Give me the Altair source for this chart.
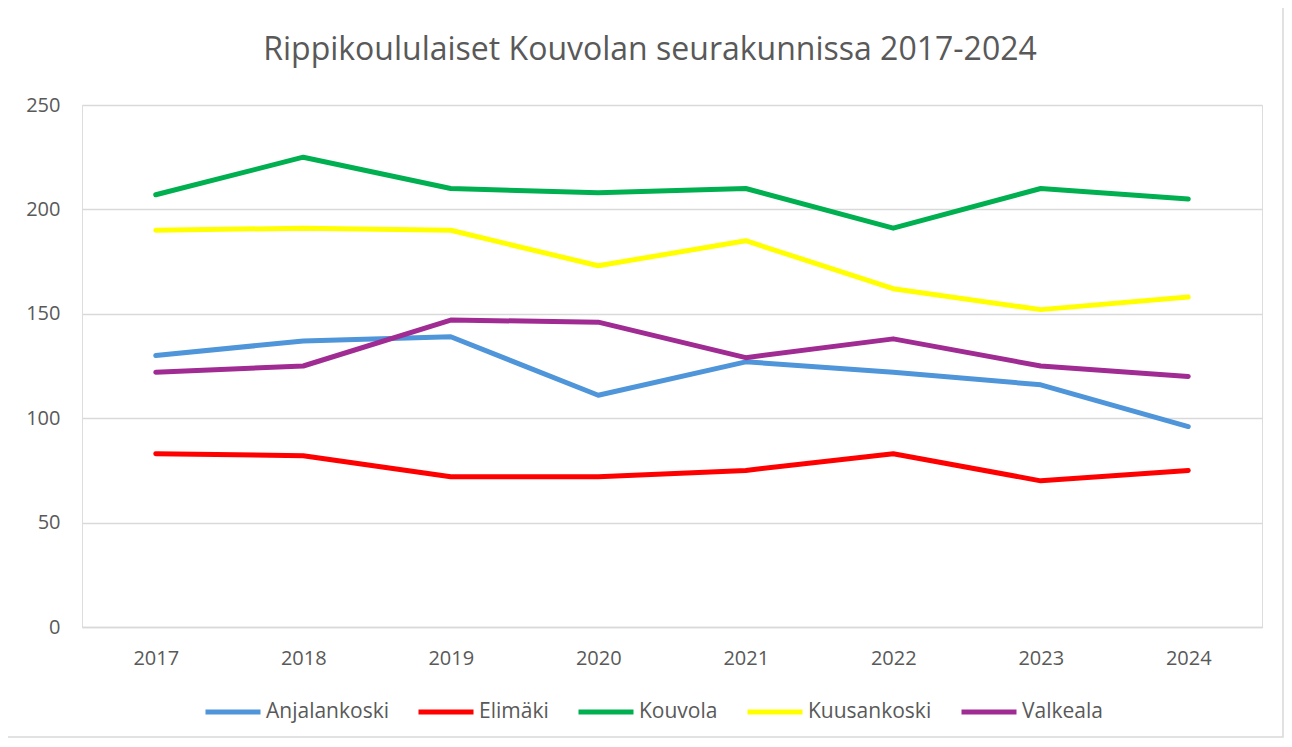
import altair as alt
import pandas as pd

years = ["2017", "2018", "2019", "2020", "2021", "2022", "2023", "2024"]
series = ["Anjalankoski", "Elimäki", "Kouvola", "Kuusankoski", "Valkeala"]
anjalankoski = [130, 137, 139, 111, 127, 122, 116, 96]
elimaki = [83, 82, 72, 72, 75, 83, 70, 75]
kouvola = [207, 225, 210, 208, 210, 191, 210, 205]
kuusankoski = [190, 191, 190, 173, 185, 162, 152, 158]
valkeala = [122, 125, 147, 146, 129, 138, 125, 120]
colors = ["#4E95D9", "#FF0000", "#00B050", "#FFFF00", "#A02B93"]
y_ticks = [0, 50, 100, 150, 200, 250]

values = [anjalankoski, elimaki, kouvola, kuusankoski, valkeala]
rows = []
for si, (name, vals) in enumerate(zip(series, values)):
    for y, v in zip(years, vals):
        rows.append({"Vuosi": y, "Seurakunta": name, "Määrä": v, "order": si})
df = pd.DataFrame(rows)

FONT = "Open Sans"
GREY = "#595959"

lines = alt.Chart(df).mark_line(strokeWidth=5, strokeCap="round", strokeJoin="round").encode(
    x=alt.X("Vuosi:O", sort=years,
            axis=alt.Axis(title=None, labelAngle=0, ticks=False, domain=True,
                          domainColor="#D9D9D9", domainWidth=1.5,
                          labelFontSize=20, labelColor=GREY, labelFont=FONT,
                          labelPadding=21)),
    y=alt.Y("Määrä:Q", scale=alt.Scale(domain=[0, 250], nice=False),
            axis=alt.Axis(title=None, values=y_ticks, ticks=False, domain=False,
                          gridColor="#D9D9D9", gridWidth=1.5,
                          labelFontSize=20, labelColor=GREY, labelFont=FONT,
                          labelPadding=22)),
    color=alt.Color("Seurakunta:N", sort=series,
                    scale=alt.Scale(domain=series, range=colors),
                    legend=alt.Legend(title=None, orient="none", direction="horizontal",
                                      legendX=121, legendY=577,
                                      symbolType="stroke", symbolSize=3025,
                                      symbolStrokeWidth=5, labelOffset=3,
                                      columnPadding=19, labelFontSize=21,
                                      labelColor=GREY, labelFont=FONT)),
    order=alt.Order("order:Q"),
)

frame = alt.Chart(pd.DataFrame({"a": [0]})).mark_rect(
    fill=None, stroke="#D9D9D9", strokeWidth=1.5
).encode(
    x=alt.value(-76), x2=alt.value(1201), y=alt.value(-98), y2=alt.value(632)
)

chart = alt.layer(frame, lines).properties(
    width=1180, height=522,
    title=alt.TitleParams("Rippikoululaiset Kouvolan seurakunnissa 2017-2024",
                          fontSize=32, color=GREY, font=FONT, fontWeight="normal",
                          anchor="middle", frame="group", baseline="alphabetic",
                          offset=-86, dx=-22),
    autosize=alt.AutoSizeParams(type="none"),
    padding={"left": 74, "top": 97, "right": 22, "bottom": 111},
).configure_view(stroke=None).configure(background="white")

chart.save("out.html", embed_options={"renderer": "svg", "actions": False})
